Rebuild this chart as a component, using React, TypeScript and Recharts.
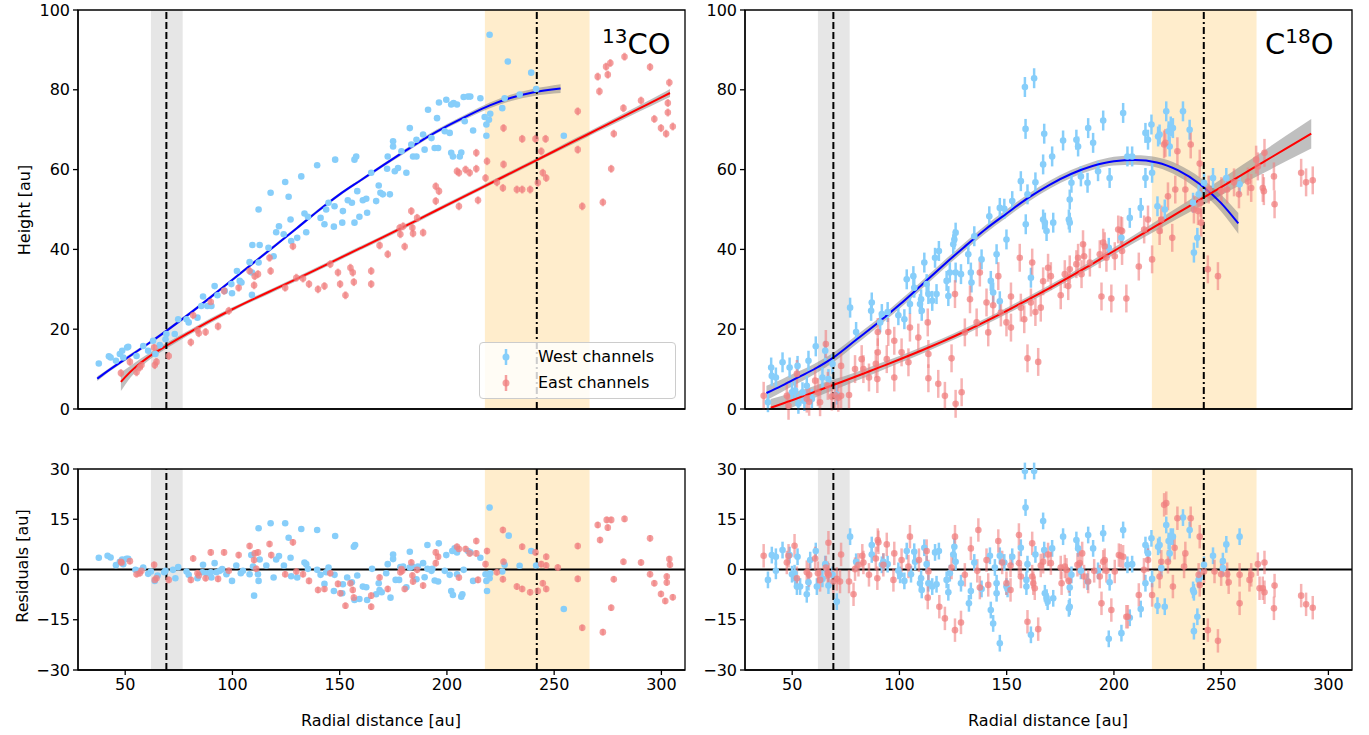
import React from 'react'
import { ComposedChart, Scatter, Line, Area, XAxis, YAxis, ReferenceArea, ReferenceLine, ErrorBar } from 'recharts'

const FONT = "'DejaVu Sans', sans-serif"
const WEST = '#87cefa'
const EAST = '#f08080'

const radialTicks = [50, 100, 150, 200, 250, 300]
const heightTicks = [0, 20, 40, 60, 80, 100]
const residTicks = [-30, -15, 0, 15, 30]
const xDomain = [28, 311]

// shaded gaps / ring positions (au)
const innerGap = [62, 76.8]
const outerGap = [217.7, 266.5]
const innerRing = 69.2
const outerRing = 241.9

// ---- 13CO heights ----
const coWest = [
  [37.7, 11.4], [42.4, 13.2], [43.2, 12.9], [45.7, 12.1], [47.5, 13.8], [48.6, 14.6], [49.1, 12.9], [50.9, 15.4], [51.4, 15.6],
  [55.3, 13.3], [58.4, 15.8], [60.7, 14.6], [63.0, 17.1], [64.1, 13.8], [66.1, 16.0], [68.8, 17.5], [69.2, 18.8], [73.1, 18.8],
  [74.7, 22.5], [78.6, 22.5], [79.6, 21.7], [83.7, 22.9], [85.5, 25.8], [86.3, 28.2], [88.3, 25.8], [90.2, 25.8], [91.7, 30.8],
  [93.0, 28.5], [96.4, 29.6], [99.5, 31.3], [99.8, 29.0], [102.1, 34.6], [103.4, 32.1], [104.2, 31.7], [108.0, 36.8], [109.1, 34.2],
  [109.1, 28.6], [109.3, 41.1], [112.2, 36.7], [112.7, 41.1], [112.2, 50.0], [116.8, 40.4], [117.8, 54.2], [119.2, 38.3], [120.4, 44.3],
  [121.7, 45.8], [123.9, 43.8], [124.6, 56.9], [126.2, 53.2], [127.1, 47.5], [127.4, 42.1], [130.2, 42.9], [132.1, 58.3], [133.6, 49.0],
  [134.4, 44.3], [135.2, 48.2], [139.5, 61.1], [141.1, 47.9], [142.9, 46.3], [143.7, 50.0], [144.8, 51.7], [147.9, 62.5], [147.6, 50.8],
  [147.3, 45.7], [151.5, 49.6], [151.2, 46.7], [153.8, 52.3], [155.7, 51.7], [156.9, 46.7], [156.9, 62.5], [157.7, 63.3], [158.2, 54.6],
  [159.2, 48.2], [160.8, 52.3], [162.4, 52.7], [162.8, 49.2], [164.7, 59.2], [167.0, 52.1], [168.2, 56.0], [169.0, 54.2], [170.1, 53.8],
  [172.1, 60.2], [172.4, 63.3], [173.4, 53.8], [174.9, 67.1], [174.9, 65.8], [175.7, 59.6], [177.2, 60.4], [178.8, 64.6], [181.1, 59.2],
  [182.7, 70.4], [183.4, 66.3], [184.2, 63.3], [185.8, 67.5], [185.8, 63.3], [188.9, 68.8], [189.6, 65.0], [191.2, 75.0], [192.8, 67.9],
  [194.3, 65.4], [195.9, 65.4], [195.4, 72.9], [196.3, 76.8], [199.0, 69.6], [199.7, 77.5], [201.3, 69.2], [202.0, 76.3], [203.1, 76.7],
  [204.7, 76.3], [202.0, 64.2], [202.8, 63.3], [206.7, 64.3], [206.0, 63.3], [207.8, 78.2], [209.8, 78.3], [210.9, 78.3], [208.3, 72.1],
  [212.2, 69.8], [215.6, 77.9], [217.6, 73.2], [218.4, 71.3], [219.6, 72.5], [220.2, 74.0], [218.4, 68.5], [219.9, 93.8], [225.8, 75.4],
  [226.9, 77.9], [228.4, 87.1], [233.9, 78.8], [239.3, 84.3], [241.6, 80.2], [254.5, 68.5],
]
const coEast = [
  [48.0, 9.0], [52.2, 11.8], [55.3, 9.2], [56.8, 10.4], [57.6, 11.0], [63.5, 15.4], [63.8, 11.0], [64.6, 11.8], [70.3, 13.3],
  [80.6, 16.7], [81.7, 23.5], [83.7, 19.8], [84.3, 19.0], [87.5, 19.3], [89.9, 26.8], [93.3, 20.7], [96.1, 29.6], [98.3, 24.6],
  [102.9, 30.4], [108.0, 34.6], [110.1, 31.0], [110.4, 33.3], [111.9, 33.8], [117.3, 37.9], [117.8, 34.6], [124.6, 30.4], [128.2, 40.8],
  [129.8, 32.9], [132.9, 32.7], [135.7, 31.3], [139.9, 30.0], [142.9, 30.8], [145.6, 36.3], [149.2, 34.2], [150.2, 31.3], [152.7, 28.5],
  [155.0, 35.4], [156.1, 34.2], [156.6, 31.8], [164.7, 34.6], [164.7, 31.3], [168.6, 41.0], [172.4, 38.8], [178.0, 45.4], [179.6, 45.8],
  [178.3, 43.8], [180.3, 40.7], [183.4, 49.6], [183.9, 45.4], [184.2, 44.0], [186.1, 47.9], [188.9, 44.2], [194.8, 55.8], [196.3, 54.6],
  [194.8, 52.1], [205.6, 50.8], [204.7, 59.6], [205.6, 59.2], [208.7, 60.0], [210.6, 59.2], [213.7, 64.2], [213.7, 60.2], [214.5, 52.3],
  [218.7, 62.1], [218.0, 57.9], [223.3, 56.8], [226.1, 55.4], [226.4, 70.4], [226.4, 61.3], [232.6, 55.0], [235.1, 55.0], [238.8, 55.0],
  [235.1, 67.7], [241.3, 67.7], [242.4, 56.7], [244.0, 64.6], [244.7, 59.2], [246.3, 57.9], [246.0, 67.7], [261.0, 74.6], [261.0, 65.0],
  [263.1, 50.8], [270.3, 83.3], [271.1, 79.6], [272.7, 51.8], [274.2, 85.8], [275.0, 83.8], [276.2, 86.7], [276.6, 60.2], [277.8, 69.0],
  [282.3, 75.4], [282.8, 88.3], [290.5, 77.3], [294.7, 85.7], [296.7, 72.7], [299.8, 70.4], [302.2, 69.0], [303.0, 76.7], [303.0, 74.3],
  [303.7, 81.8], [305.3, 70.8],
]
const coWestFitX = [37, 40, 50, 60, 70, 80, 90, 100, 110, 120, 130, 140, 150, 160, 170, 180, 190, 200, 210, 220, 230, 240, 253]
const coWestFitY = [7.6, 8.8, 12.5, 16.1, 19.9, 23.9, 28.1, 32.4, 36.7, 41.0, 45.3, 49.7, 53.8, 57.4, 61.0, 64.5, 67.9, 70.9, 73.6, 76.1, 78.0, 79.3, 80.3]
const coWestFitErr = [0.6, 0.5, 0.5, 0.4, 0.4, 0.4, 0.4, 0.4, 0.4, 0.4, 0.4, 0.4, 0.4, 0.4, 0.4, 0.5, 0.5, 0.5, 0.6, 0.7, 0.8, 0.9, 1.1]
const coEastFitX = [48, 50, 55, 60, 70, 80, 90, 100, 110, 120, 130, 140, 150, 160, 170, 180, 190, 200, 210, 220, 230, 240, 250, 260, 270, 280, 290, 300, 304]
const coEastFitY = [6.8, 8.0, 10.6, 12.7, 16.1, 19.2, 22.2, 25.0, 27.6, 30.1, 32.6, 35.2, 37.8, 40.4, 43.0, 45.7, 48.4, 51.1, 53.8, 56.5, 59.2, 61.9, 64.6, 67.3, 70.0, 72.7, 75.4, 78.1, 79.2]
const coEastFitErr = [2.3, 1.9, 1.2, 0.9, 0.7, 0.6, 0.6, 0.5, 0.5, 0.5, 0.5, 0.5, 0.5, 0.5, 0.5, 0.5, 0.5, 0.5, 0.5, 0.5, 0.5, 0.5, 0.5, 0.6, 0.6, 0.7, 0.8, 0.9, 1.0]

// ---- 13CO residuals ----
const coWestRes = [
  [37.7, 3.5], [41.8, 4.1], [43.2, 3.6], [45.7, 1.3], [47.5, 2.3], [48.6, 3.0], [49.1, 1.6], [50.6, 3.2], [51.4, 3.2], [54.8, -0.1],
  [56.5, -0.4], [58.4, 0.6], [60.7, -1.3], [62.0, -0.6], [63.8, -3.4], [65.1, -1.8], [68.2, -0.8], [68.8, -0.4], [72.3, -0.1], [73.4, -2.6],
  [74.7, 0.7], [78.6, -0.6], [79.6, -1.6], [83.7, -2.6], [86.3, 1.4], [86.0, -0.8], [87.9, -1.1], [89.9, -0.8], [90.2, -2.4], [91.7, 1.9],
  [92.5, -0.8], [94.1, -0.4], [95.2, 0.1], [97.2, -1.4], [99.8, -3.4], [101.8, 1.2], [103.9, -1.1], [104.9, -0.4], [108.0, -1.4], [108.8, 4.3],
  [109.6, 0.9], [110.1, -7.8], [111.9, -1.4], [112.2, -3.4], [112.7, 3.0], [112.2, 12.3], [115.8, 1.2], [117.8, 13.8], [119.2, -2.4], [120.4, 3.0],
  [121.7, 4.0], [124.0, 1.2], [124.6, 13.8], [126.2, 9.5], [127.1, 3.5], [127.4, -2.0], [130.2, -2.4], [132.1, 12.1], [133.6, 2.1], [134.4, 1.6],
  [135.2, 0.2], [139.5, 11.8], [139.5, -0.1], [141.1, -1.6], [142.9, -4.3], [143.7, -0.8], [144.8, 0.6], [147.9, 10.0], [147.3, -6.4], [147.6, -1.6],
  [151.5, -4.4], [151.2, -7.1], [153.5, -2.4], [155.7, -3.8], [156.6, 6.8], [157.2, 7.3], [156.9, -9.1], [158.2, -1.8], [159.2, -8.8], [160.8, -5.1],
  [162.4, -5.3], [162.8, -9.1], [165.1, 0.2], [167.0, -7.4], [168.2, -4.1], [168.6, -6.1], [169.6, -6.8], [171.7, -1.1], [172.4, 1.6], [174.9, 4.5],
  [174.9, 3.1], [173.7, -8.4], [176.1, -3.1], [177.7, -3.1], [178.3, 0.7], [179.6, 0.9], [181.1, -5.3], [182.7, 5.3], [182.7, 0.6], [183.9, 0.9],
  [185.8, -2.9], [186.5, 0.9], [188.9, 1.9], [189.6, -2.3], [190.9, 7.3], [190.9, 0.2], [192.8, -0.4], [193.2, 0.2], [194.3, -3.3], [195.9, -3.6],
  [196.2, 7.8], [199.0, -0.4], [199.7, 4.3], [201.3, -1.6], [202.0, -6.4], [202.8, -7.6], [202.5, 5.5], [203.6, 6.3], [204.7, 5.1], [204.7, -1.4],
  [206.7, -8.1], [207.2, -7.4], [207.8, -0.1], [209.8, 5.5], [210.9, 5.1], [212.2, -3.4], [215.6, 3.5], [218.0, -1.4], [218.4, -3.4], [218.7, -6.4],
  [219.9, -2.6], [220.2, -1.1], [219.9, 18.5], [225.8, -0.6], [226.9, 1.4], [228.8, 10.1], [233.9, 1.1], [239.3, 5.5], [241.6, 1.2], [254.5, -11.8],
]
const coEastRes = [
  [48.0, 2.3], [48.3, 2.0], [52.2, 2.5], [55.3, -1.4], [56.8, -1.1], [57.6, -0.4], [63.5, 1.4], [63.8, -3.1], [64.6, -2.6], [70.3, -3.1],
  [80.6, -3.1], [81.7, 3.3], [83.7, -1.1], [84.3, -1.8], [87.5, -2.6], [89.9, 5.1], [93.3, -2.8], [96.1, 5.1], [98.3, -0.4], [102.9, 4.3],
  [108.0, 7.0], [110.1, 2.8], [110.4, 4.8], [111.9, 5.1], [111.1, 0.2], [117.3, 7.6], [118.1, 4.3], [124.6, -1.4], [128.2, 8.1], [129.8, -0.6],
  [132.9, -1.4], [135.7, -3.4], [139.9, -6.1], [142.9, -5.8], [145.6, -1.1], [149.2, -4.3], [150.3, -7.1], [152.7, -10.8], [155.0, -4.1], [156.1, -6.1],
  [156.6, -8.4], [164.7, -7.8], [164.7, -11.1], [168.6, -2.4], [172.4, -5.8], [178.3, -0.8], [179.2, -0.4], [178.8, 0.1], [180.3, -5.8], [183.4, 2.1],
  [183.9, -1.8], [184.2, -3.6], [186.1, -0.1], [188.9, -4.8], [194.8, 5.1], [195.9, 3.8], [194.8, 1.9], [204.7, 6.8], [205.6, 6.1], [205.6, -2.4],
  [208.7, 6.1], [210.6, 4.8], [213.7, 8.5], [213.7, 4.8], [214.5, -3.1], [218.0, 1.6], [218.7, 5.5], [223.3, -0.8], [226.1, 11.8], [226.4, 2.3],
  [226.1, -2.9], [232.6, -5.1], [235.1, -5.8], [238.8, -6.8], [235.1, 6.8], [241.3, 5.1], [242.4, -6.4], [244.0, 1.6], [246.3, 1.2], [244.7, -4.1],
  [246.3, -5.8], [246.3, 3.8], [251.7, 0.6], [261.0, 7.0], [261.0, -2.8], [263.1, -17.4], [270.3, 13.3], [271.4, 8.8], [272.7, -18.7], [274.5, 14.8],
  [275.0, 12.5], [276.6, 14.8], [276.6, -11.4], [277.8, -2.9], [282.3, 2.3], [282.8, 15.1], [290.5, 2.1], [294.7, 9.3], [294.7, -1.4], [296.7, -4.1],
  [299.8, -7.3], [301.8, -9.4], [302.5, -2.1], [302.5, -3.9], [303.7, 3.1], [304.0, 1.4], [305.3, -8.3],
]

// ---- C18O heights ----
const c18West = [
  [38.7, 1.7], [40.2, 10.4], [40.5, 8.3], [42.4, 7.9], [45.5, 11.7], [48.8, 10.4], [49.9, 4.2], [51.4, 4.6], [52.9, 1.3], [52.5, 10.8],
  [54.8, 4.2], [55.7, 2.0], [56.8, 5.8], [57.6, 12.1], [59.2, 2.5], [61.0, 15.7], [64.1, 7.9], [65.4, 14.6], [66.9, 7.5], [68.8, 11.3],
  [70.8, 3.6], [77.0, 25.4], [79.8, 19.3], [86.8, 24.6], [87.1, 26.7], [91.0, 21.7], [91.8, 23.8], [94.5, 24.3], [99.5, 23.5], [102.3, 22.5],
  [103.4, 32.5], [104.9, 26.3], [106.5, 33.3], [106.9, 30.4], [109.6, 26.3], [110.4, 24.6], [110.1, 27.5], [111.6, 36.7], [112.7, 31.3],
  [113.5, 28.8], [115.3, 27.1], [116.6, 37.9], [117.3, 28.8], [118.4, 39.6], [122.0, 32.1], [122.8, 28.3], [123.5, 34.2], [125.1, 41.3],
  [125.6, 42.5], [126.2, 44.2], [126.2, 34.2], [128.7, 33.8], [132.1, 38.8], [133.3, 34.2], [133.6, 31.7], [134.9, 43.3], [138.3, 37.5],
  [141.9, 48.3], [142.6, 32.1], [143.7, 29.2], [145.3, 38.8], [146.8, 27.0], [146.8, 50.4], [148.9, 50.2], [149.9, 42.5], [152.6, 52.1],
  [156.6, 57.1], [158.9, 46.3], [159.7, 53.8], [158.5, 80.7], [158.8, 70.2], [162.8, 82.9], [161.3, 32.9], [163.4, 56.8], [167.0, 47.5],
  [167.8, 46.7], [168.6, 44.6], [167.5, 69.0], [167.0, 61.3], [171.2, 63.3], [171.7, 46.7], [176.3, 67.3], [179.0, 47.5], [179.4, 46.7],
  [179.4, 52.5], [180.2, 56.7], [182.5, 67.5], [183.3, 65.8], [184.6, 58.3], [188.0, 70.4], [187.7, 56.7], [190.3, 66.7], [192.6, 59.6],
  [195.0, 72.3], [198.0, 57.9], [197.6, 40.4], [204.3, 74.2], [203.5, 42.9], [207.4, 47.9], [206.3, 63.3], [208.5, 63.3], [212.5, 50.4],
  [214.7, 69.2], [215.9, 67.5], [214.7, 57.9], [217.5, 71.3], [217.8, 59.2], [220.3, 50.8], [220.6, 68.3], [221.3, 68.8], [223.7, 50.0],
  [224.4, 74.6], [225.5, 69.6], [226.5, 70.8], [227.5, 70.4], [226.0, 65.8], [232.2, 74.6], [235.3, 70.0], [236.9, 51.7], [237.3, 39.2],
  [238.9, 42.9], [239.5, 53.8], [242.0, 56.7], [246.2, 57.9], [252.4, 57.9], [258.6, 56.3],
]
const c18East = [
  [36.7, 3.3], [47.5, 3.3], [48.3, 0.8], [52.2, 8.8], [56.8, 2.6], [57.9, 1.8], [60.7, 7.1], [62.0, 4.2], [63.0, 1.7], [65.7, 16.3],
  [66.6, 5.8], [68.5, 3.1], [70.0, 3.5], [71.5, 2.8], [72.8, 10.8], [72.8, 3.3], [76.5, 3.5], [79.3, 10.0], [82.4, 12.5], [83.2, 10.0],
  [85.8, 7.9], [89.0, 11.3], [89.7, 7.5], [89.9, 19.3], [89.9, 14.2], [94.1, 12.5], [94.8, 19.3], [97.6, 17.1], [97.6, 7.9], [101.0, 14.2],
  [104.2, 11.7], [104.9, 20.4], [108.8, 17.9], [113.2, 21.7], [113.5, 13.8], [113.5, 7.7], [118.1, 6.3], [121.2, 3.3], [124.3, 12.7],
  [125.9, 28.8], [126.2, 1.3], [129.0, 4.2], [130.5, 19.2], [132.9, 27.5], [136.0, 21.7], [137.5, 34.2], [141.4, 19.2], [140.6, 26.7],
  [143.7, 26.0], [146.1, 33.3], [147.3, 24.2], [149.9, 21.7], [152.0, 20.4], [152.0, 28.2], [156.1, 37.9], [156.6, 25.4], [158.2, 22.5],
  [159.7, 12.7], [161.3, 26.7], [161.9, 36.7], [163.4, 24.3], [164.7, 11.8], [165.9, 25.4], [167.0, 32.0], [169.3, 35.4], [170.6, 33.3],
  [175.2, 28.5], [177.1, 33.8], [178.7, 30.8], [179.4, 35.0], [182.5, 36.3], [183.3, 37.9], [184.9, 33.8], [185.6, 41.3], [186.1, 38.3],
  [188.8, 36.7], [193.4, 38.8], [194.2, 28.2], [195.0, 41.7], [195.7, 40.8], [196.5, 37.9], [198.8, 27.7], [200.4, 38.3], [202.0, 45.0],
  [203.2, 44.8], [203.8, 44.6], [203.8, 39.6], [205.8, 27.7], [211.6, 35.7], [214.1, 45.0], [215.9, 47.5], [217.8, 37.5], [221.3, 44.6],
  [222.1, 47.5], [223.4, 66.3], [224.0, 66.7], [225.2, 53.3], [227.2, 42.9], [228.6, 55.0], [229.6, 64.6], [233.3, 55.0], [235.8, 66.3],
  [237.3, 50.0], [239.2, 49.6], [240.0, 61.5], [240.4, 51.7], [240.7, 46.7], [243.8, 35.0], [244.2, 55.0], [248.5, 33.3], [250.1, 54.6],
  [252.8, 55.0], [256.0, 56.8], [258.3, 53.8], [262.5, 57.0], [264.0, 55.4], [266.3, 62.5], [267.1, 60.8], [269.4, 55.4], [270.2, 64.2],
  [269.9, 54.6], [274.6, 58.3], [274.9, 51.3], [287.3, 59.2], [289.6, 56.8], [292.7, 57.3],
]
const c18WestFitX = [38, 45, 50, 60, 70, 80, 90, 100, 110, 120, 130, 140, 150, 160, 170, 180, 190, 200, 210, 220, 230, 240, 250, 258]
const c18WestFitY = [4.0, 5.8, 7.2, 9.9, 13.2, 17.4, 21.6, 26.1, 30.9, 35.8, 40.5, 45.0, 49.0, 52.9, 56.2, 58.9, 60.9, 62.1, 62.4, 61.8, 59.8, 56.4, 51.6, 46.5]
const c18WestFitErr = [1.8, 1.6, 1.5, 1.3, 1.2, 1.1, 1.0, 1.0, 1.0, 1.0, 1.0, 1.0, 1.0, 1.0, 1.0, 1.0, 1.0, 1.1, 1.2, 1.3, 1.5, 1.7, 2.1, 2.6]
const c18EastFitX = [40, 50, 60, 70, 80, 90, 100, 110, 120, 130, 140, 150, 160, 170, 180, 190, 200, 210, 220, 230, 240, 250, 260, 270, 280, 292]
const c18EastFitY = [0.3, 2.2, 4.2, 6.2, 8.2, 10.3, 12.4, 14.6, 16.9, 19.3, 21.9, 24.6, 27.4, 30.3, 33.3, 36.4, 39.6, 42.8, 46.0, 49.2, 52.4, 55.6, 58.8, 62.0, 65.2, 69.0]
const c18EastFitErr = [2.2, 1.8, 1.5, 1.3, 1.1, 1.0, 0.9, 0.9, 0.8, 0.8, 0.8, 0.8, 0.8, 0.8, 0.8, 0.9, 0.9, 1.0, 1.2, 1.4, 1.7, 2.0, 2.4, 2.8, 3.2, 3.7]

// ---- C18O residuals ----
const c18WestRes = [
  [38.7, -3.1], [40.5, 4.3], [42.4, 3.8], [42.4, -0.4], [45.5, 5.8], [48.8, 4.3], [49.9, -1.4], [51.1, -1.1], [51.4, -2.6], [52.2, -5.1],
  [53.7, -5.1], [52.5, 3.8], [56.8, -7.4], [57.6, -3.8], [58.4, 2.8], [61.0, 5.5], [61.5, -5.1], [64.1, -2.8], [65.4, 1.6], [66.9, -4.8],
  [68.8, -1.6], [70.8, -9.6], [77.0, 9.8], [79.8, 2.3], [87.1, 7.3], [87.1, 4.5], [91.8, 1.4], [92.5, 2.3], [94.5, 1.6], [99.5, -0.4],
  [100.3, -1.6], [102.3, -3.4], [103.4, 5.5], [105.4, -1.4], [106.9, 5.3], [107.3, 2.3], [109.6, -4.1], [110.4, -6.1], [110.1, -2.6],
  [111.6, 6.5], [112.7, 1.6], [113.5, -4.1], [115.3, -5.1], [116.6, 5.1], [117.3, -4.4], [118.4, 5.5], [122.0, -3.1], [122.8, -6.8],
  [123.5, -1.1], [125.1, 4.5], [125.6, 6.8], [126.2, 2.3], [128.7, -4.1], [132.4, -10.1], [133.3, -6.4], [134.9, 2.1], [138.3, -5.8],
  [142.2, 4.1], [142.6, -12.1], [143.7, -16.1], [145.3, -7.1], [145.3, -4.1], [146.8, -22.0], [146.8, 4.1], [148.9, 2.1], [144.5, 0.6],
  [149.9, -5.1], [150.4, -5.8], [152.6, 3.8], [156.6, 6.5], [158.5, 29.4], [162.8, 29.4], [158.8, 18.5], [159.2, -3.1], [159.2, -5.1],
  [159.7, 1.6], [161.3, -19.5], [163.4, 4.5], [167.0, 14.5], [167.5, 5.8], [167.8, -7.1], [168.6, -8.4], [169.1, -9.6], [171.2, 6.3],
  [171.7, -8.6], [176.3, 9.8], [179.0, -11.6], [179.4, -11.1], [179.4, -5.4], [180.2, -1.6], [182.5, 8.8], [183.3, 6.3], [184.6, -0.4],
  [188.0, 10.3], [187.7, -3.6], [190.3, 6.3], [192.6, -0.4], [195.0, 10.8], [197.6, -20.7], [198.0, -3.8], [204.3, 11.8], [203.5, -19.0],
  [206.3, 1.4], [208.5, 1.6], [207.4, -14.4], [212.5, -11.8], [214.7, 7.3], [215.9, 4.8], [214.7, -4.1], [217.5, 9.3], [217.8, -2.8],
  [220.3, -10.8], [220.6, 6.8], [221.3, 7.3], [222.1, 0.4], [223.7, -11.1], [224.4, 13.3], [225.5, 8.5], [226.5, 9.8], [227.5, 9.8],
  [226.0, 4.8], [232.2, 15.5], [235.3, 11.8], [236.9, -6.1], [237.3, -6.8], [237.3, -18.4], [238.9, -14.1], [239.5, -3.1], [240.0, -2.4],
  [242.0, 1.4], [246.2, 4.1], [250.8, 2.5], [250.8, 0.4], [252.4, 7.5], [258.6, 9.8],
]
const c18EastRes = [
  [36.7, 4.1], [47.5, 2.1], [48.3, 4.1], [51.1, 7.1], [52.2, -2.6], [56.8, -0.8], [57.9, -1.6], [60.7, 3.3], [62.0, -1.1], [63.0, -3.1],
  [65.7, 0.6], [66.9, 8.0], [66.6, -1.1], [67.0, -1.6], [69.2, -3.6], [70.8, -2.8], [72.3, -3.6], [72.8, 4.5], [76.5, -3.6], [78.6, -7.4],
  [79.3, 0.1], [80.9, 1.4], [82.7, 4.1], [83.2, 2.1], [85.8, -1.6], [89.0, 3.3], [89.9, 8.8], [90.2, 8.1], [89.7, -2.6], [94.1, 7.5],
  [92.5, 1.4], [97.2, -3.1], [97.6, 4.8], [101.0, 2.8], [104.2, 0.9], [104.9, 9.8], [109.1, 2.8], [112.7, 5.5], [113.2, -8.4], [113.5, -0.6],
  [118.6, -11.1], [121.2, -14.6], [124.3, 0.6], [125.9, 9.8], [125.9, -18.1], [128.7, -15.8], [130.5, -1.6], [133.3, 6.3], [136.8, 11.8],
  [136.3, -0.4], [137.5, -5.4], [140.6, 2.8], [141.4, -4.6], [146.1, 8.5], [147.9, 2.1], [149.9, -4.1], [151.8, 1.2], [151.8, -6.1],
  [155.7, 10.3], [155.7, 1.9], [156.6, -2.1], [159.7, -15.6], [161.9, 7.8], [161.9, -2.1], [162.4, -4.1], [163.1, -5.6], [164.7, -17.8],
  [165.9, 1.2], [167.0, 2.3], [169.3, 4.5], [170.6, 1.9], [175.6, -4.1], [175.2, 0.6], [177.1, 0.9], [177.9, -0.1], [179.0, -3.4],
  [183.0, 1.4], [184.1, 1.9], [185.2, 4.8], [186.1, -2.1], [188.0, -3.6], [190.8, -0.4], [193.4, -2.1], [194.2, -10.1], [195.0, 2.3],
  [195.7, 2.8], [196.5, -0.4], [198.8, -12.1], [200.4, -0.6], [202.3, 4.3], [203.2, 4.1], [204.3, 3.8], [205.8, -14.1], [206.5, -14.1],
  [211.6, -7.6], [214.0, -0.1], [215.9, 2.8], [217.8, -7.6], [221.3, -2.1], [222.1, 2.3], [223.4, 19.3], [224.4, 19.8], [225.2, 2.3],
  [227.5, -5.1], [228.3, 6.5], [229.6, 15.3], [232.7, 0.9], [233.3, 4.8], [235.8, 15.3], [239.5, -1.6], [240.0, -4.6], [240.0, 9.8],
  [242.0, -0.6], [243.8, -18.1], [246.9, -0.6], [248.5, -21.3], [250.0, -1.4], [252.8, -1.4], [253.5, -3.8], [258.6, -1.6], [258.6, -10.1],
  [263.2, -3.1], [264.0, -1.6], [267.1, 1.6], [267.9, -5.6], [269.4, -5.6], [270.2, -6.8], [270.2, 2.1], [274.6, -11.6], [274.9, -4.8],
  [287.3, -7.8], [289.6, -10.4], [292.7, -11.4],
]

// typical 1-sigma error bars
const coWestErr = 0.5
const coEastErr = 1.0
const c18WestErr = 2.5
const c18EastErr = 3.5

const toPts = (arr: number[][], err: number) => arr.map(([x, y]) => ({ x, y, e: err }))
const toFit = (xs: number[], ys: number[], es: number[]) =>
  xs.map((x, i) => ({ x, y: ys[i], band: [ys[i] - es[i], ys[i] + es[i]] }))

const minus = (v: number) => (v < 0 ? '\u2212' + Math.abs(v) : String(v))

const dotShape = (color: string, op: number) => (p: any) => (
  <circle cx={p.cx} cy={p.cy} r={3.3} fill={color} fillOpacity={op} />
)

const tickStyle = { fill: '#000', fontSize: 16, fontFamily: FONT }
const axisStroke = { stroke: '#000', strokeWidth: 1.3 }

function Panel(props: any) {
  const { left, top, width, height, margin, yW, xH, yDomain, yTicks, xLabels, west, east, westErr, eastErr, westFit, eastFit, zero } = props
  return (
    <div style={{ position: 'absolute', left, top }}>
      <ComposedChart width={width} height={height} margin={margin}>
        <XAxis type="number" dataKey="x" domain={xDomain} ticks={radialTicks} allowDataOverflow interval={0} height={xH}
          tick={xLabels ? tickStyle : false} tickSize={5} tickMargin={4} axisLine={axisStroke} tickLine={axisStroke} />
        <YAxis type="number" domain={yDomain} ticks={yTicks} allowDataOverflow interval={0} width={yW}
          tick={tickStyle} tickFormatter={minus} tickSize={5} tickMargin={3} axisLine={axisStroke} tickLine={axisStroke} />
        <ReferenceArea x1={innerGap[0]} x2={innerGap[1]} y1={yDomain[0]} y2={yDomain[1]} fill="#e6e6e6" fillOpacity={1} stroke="none" />
        <ReferenceArea x1={outerGap[0]} x2={outerGap[1]} y1={yDomain[0]} y2={yDomain[1]} fill="#ffedcc" fillOpacity={1} stroke="none" />
        {zero && <ReferenceLine y={0} stroke="#000" strokeWidth={2} />}
        <Scatter data={toPts(west, westErr)} dataKey="y" isAnimationActive={false} shape={dotShape(WEST, 1)}>
          <ErrorBar dataKey="e" direction="y" width={0} stroke={WEST} strokeWidth={2.5} />
        </Scatter>
        <Scatter data={toPts(east, eastErr)} dataKey="y" isAnimationActive={false} shape={dotShape(EAST, 0.75)}>
          <ErrorBar dataKey="e" direction="y" width={0} stroke={EAST} strokeOpacity={0.6} strokeWidth={2.5} />
        </Scatter>
        {westFit && <Area data={westFit} dataKey="band" type="monotone" stroke="none" fill="#808080" fillOpacity={0.5} isAnimationActive={false} />}
        {eastFit && <Area data={eastFit} dataKey="band" type="monotone" stroke="none" fill="#808080" fillOpacity={0.5} isAnimationActive={false} />}
        {westFit && <Line data={westFit} dataKey="y" type="monotone" stroke="#0000ff" strokeWidth={2} dot={false} isAnimationActive={false} />}
        {eastFit && <Line data={eastFit} dataKey="y" type="monotone" stroke="#ff0000" strokeWidth={2} dot={false} isAnimationActive={false} />}
        <ReferenceLine x={innerRing} stroke="#000" strokeWidth={2} strokeDasharray="7 3" />
        <ReferenceLine x={outerRing} stroke="#000" strokeWidth={2} strokeDasharray="7 3 2 3" />
        <ReferenceArea x1={xDomain[0]} x2={xDomain[1]} y1={yDomain[0]} y2={yDomain[1]} fill="none" stroke="#000" strokeWidth={1.3} ifOverflow="visible" />
      </ComposedChart>
    </div>
  )
}

const LegendIcon = ({ color, op }: { color: string; op: number }) => (
  <svg width={12} height={20} style={{ display: 'block' }}>
    <line x1={6} y1={2} x2={6} y2={18} stroke={color} strokeOpacity={op} strokeWidth={2.5} />
    <circle cx={6} cy={10} r={3.5} fill={color} fillOpacity={op} />
  </svg>
)

const textBase: React.CSSProperties = { position: 'absolute', fontFamily: FONT, color: '#000', whiteSpace: 'nowrap' }

export default function App() {
  const topMarginL = { top: 10, right: 10, left: 18, bottom: 0 }
  const topMarginR = { top: 10, right: 17, left: 0, bottom: 0 }
  const botMarginL = { top: 29, right: 10, left: 18, bottom: 0 }
  const botMarginR = { top: 29, right: 17, left: 0, bottom: 0 }
  return (
    <div style={{ position: 'absolute', left: 0, top: 0, width: 1369, height: 735, background: '#fff', fontFamily: FONT }}>
      <Panel left={0} top={0} width={695} height={440} margin={topMarginL} yW={60} xH={31} yDomain={[0, 100]} yTicks={heightTicks}
        xLabels={false} west={coWest} east={coEast} westErr={coWestErr} eastErr={coEastErr}
        westFit={toFit(coWestFitX, coWestFitY, coWestFitErr)} eastFit={toFit(coEastFitX, coEastFitY, coEastFitErr)} />
      <Panel left={695} top={0} width={674} height={440} margin={topMarginR} yW={50} xH={31} yDomain={[0, 100]} yTicks={heightTicks}
        xLabels={false} west={c18West} east={c18East} westErr={c18WestErr} eastErr={c18EastErr}
        westFit={toFit(c18WestFitX, c18WestFitY, c18WestFitErr)} eastFit={toFit(c18EastFitX, c18EastFitY, c18EastFitErr)} />
      <Panel left={0} top={440} width={695} height={295} margin={botMarginL} yW={60} xH={65} yDomain={[-30, 30]} yTicks={residTicks}
        xLabels west={coWestRes} east={coEastRes} westErr={coWestErr} eastErr={coEastErr} zero />
      <Panel left={695} top={440} width={674} height={295} margin={botMarginR} yW={50} xH={65} yDomain={[-30, 30]} yTicks={residTicks}
        xLabels west={c18WestRes} east={c18EastRes} westErr={c18WestErr} eastErr={c18EastErr} zero />

      <div style={{ ...textBase, left: 24, top: 210, fontSize: 16, transform: 'translate(-50%, -50%) rotate(-90deg)' }}>Height [au]</div>
      <div style={{ ...textBase, left: 22, top: 566, fontSize: 16, transform: 'translate(-50%, -50%) rotate(-90deg)' }}>Residuals [au]</div>
      <div style={{ ...textBase, left: 381, top: 720, fontSize: 16, transform: 'translate(-50%, -50%)' }}>Radial distance [au]</div>
      <div style={{ ...textBase, left: 1048, top: 720, fontSize: 16, transform: 'translate(-50%, -50%)' }}>Radial distance [au]</div>

      <div style={{ ...textBase, left: 602, top: 22, fontSize: 29, lineHeight: '29px' }}>
        <span style={{ fontSize: 20, verticalAlign: '11px' }}>13</span>CO
      </div>
      <div style={{ ...textBase, left: 1265, top: 22, fontSize: 29, lineHeight: '29px' }}>
        C<span style={{ fontSize: 20, verticalAlign: '11px' }}>18</span>O
      </div>

      <div style={{ position: 'absolute', left: 479, top: 342, width: 197, height: 57, border: '1px solid #cccccc', borderRadius: 4,
        background: 'rgba(255,255,255,0.8)', boxSizing: 'border-box' }}>
        <div style={{ position: 'absolute', left: 20, top: 4 }}><LegendIcon color={WEST} op={1} /></div>
        <div style={{ ...textBase, left: 58, top: 4, fontSize: 16, lineHeight: '20px' }}>West channels</div>
        <div style={{ position: 'absolute', left: 20, top: 30 }}><LegendIcon color={EAST} op={0.75} /></div>
        <div style={{ ...textBase, left: 58, top: 30, fontSize: 16, lineHeight: '20px' }}>East channels</div>
      </div>
    </div>
  )
}
